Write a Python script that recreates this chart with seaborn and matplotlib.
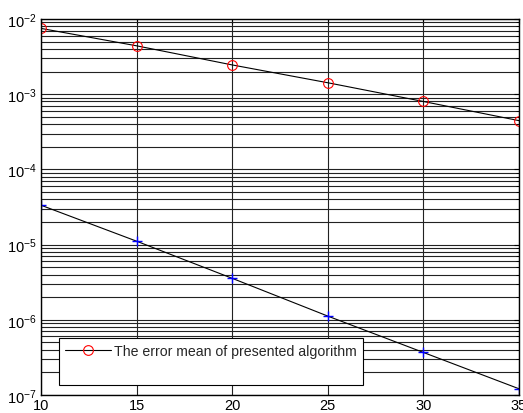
import matplotlib
matplotlib.use("Agg")
import matplotlib.pyplot as plt
import seaborn as sns
import numpy as np
from matplotlib.lines import Line2D
from matplotlib.ticker import LogLocator, FixedLocator

x_vals = [10, 15, 20, 25, 30, 35]
presented = [7.5e-3, 4.4e-3, 2.45e-3, 1.42e-3, 8.0e-4, 4.45e-4]
other = [3.34e-5, 1.11e-5, 3.56e-6, 1.12e-6, 3.68e-7, 1.21e-7]
legend_label = "The error mean of presented algorithm"
x_ticks = [10, 15, 20, 25, 30, 35]

sns.set_style("white")
plt.rcParams['font.family'] = ['Liberation Sans', 'DejaVu Sans']
plt.rcParams['mathtext.fontset'] = 'custom'
plt.rcParams['mathtext.rm'] = 'Liberation Sans'
plt.rcParams['mathtext.it'] = 'Liberation Sans'
plt.rcParams['mathtext.default'] = 'regular'

fig = plt.figure(figsize=(5.23, 4.14), dpi=100)
ax = fig.add_axes([41/523, 1 - 396/414, (519-41)/523, (396-20)/414])

sns.lineplot(x=x_vals, y=presented, ax=ax, color='black', lw=0.8,
             marker='o', markersize=7, markerfacecolor='none',
             markeredgecolor='red', markeredgewidth=0.8)
sns.lineplot(x=x_vals, y=other, ax=ax, color='black', lw=0.8,
             marker='+', markersize=7, markeredgecolor='blue',
             markeredgewidth=1.0)

ax.set_yscale('log')
ax.set_xlim(10, 35)
ax.set_ylim(1e-7, 1e-2)
ax.xaxis.set_major_locator(FixedLocator(x_ticks))
ax.yaxis.set_major_locator(LogLocator(base=10, numticks=10))
ax.yaxis.set_minor_locator(LogLocator(base=10, subs=np.arange(2, 10), numticks=20))

ax.grid(True, which='major', axis='both', color='#222222', lw=0.8)
ax.grid(True, which='minor', axis='y', color='#222222', lw=0.8)
ax.set_axisbelow(True)

for s in ax.spines.values():
    s.set_color('black')
    s.set_linewidth(1.0)

ax.tick_params(axis='both', which='both', direction='in', top=True, right=True,
               labelsize=10.5, colors='black', pad=3)
ax.tick_params(axis='x', which='major', pad=2.5)
ax.tick_params(axis='y', which='minor', labelleft=False)

h1 = Line2D([], [], color='black', lw=0.8, marker='o', markersize=7,
            markerfacecolor='none', markeredgecolor='red', markeredgewidth=0.8)
h2 = Line2D([], [], color='none', lw=0)
leg = ax.legend([h1, h2], [legend_label, ' '], loc='lower left',
                bbox_to_anchor=(18/478, 10/376), fancybox=False, framealpha=1,
                edgecolor='black', fontsize=10.2, handlelength=3.2,
                handletextpad=0.25, borderaxespad=0, labelspacing=0.45,
                borderpad=0.45)
leg.get_frame().set_linewidth(0.8)

fig.savefig("out.png", dpi=100)
